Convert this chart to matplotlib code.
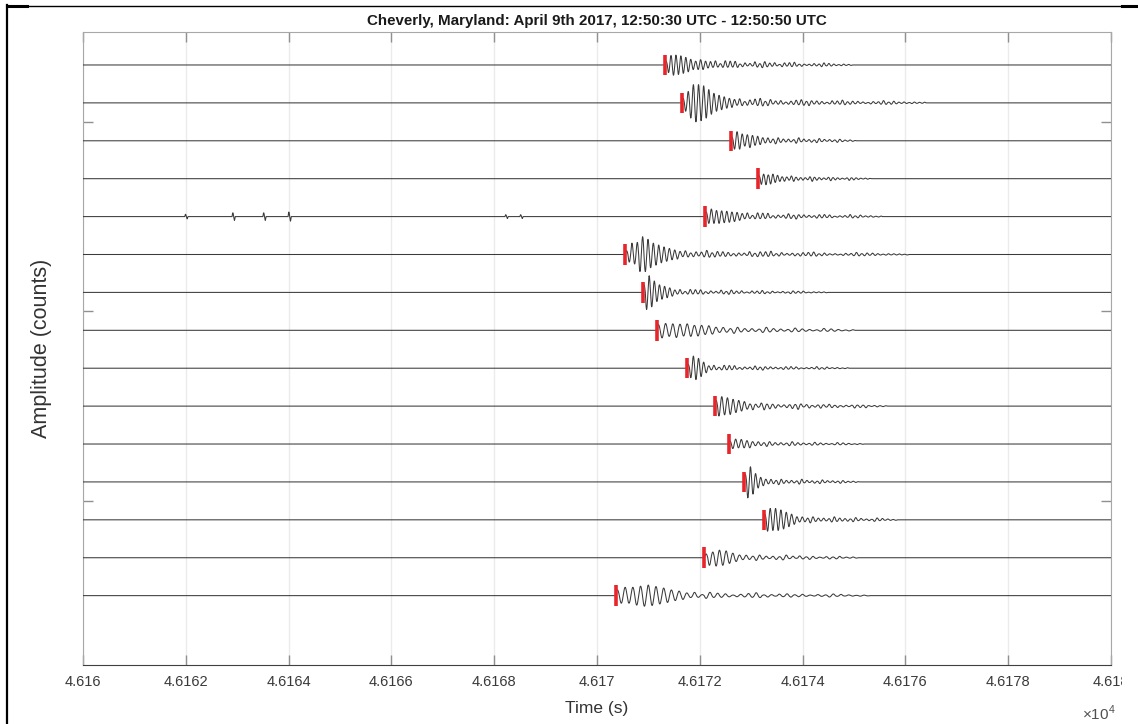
import numpy as np
import matplotlib.pyplot as plt
from matplotlib.lines import Line2D
from matplotlib.patches import Rectangle

plt.rcParams['font.family'] = ['Liberation Sans', 'DejaVu Sans']
plt.rcParams['mathtext.fontset'] = 'custom'
plt.rcParams['mathtext.rm'] = 'Liberation Sans'

title = "Cheverly, Maryland: April 9th 2017, 12:50:30 UTC - 12:50:50 UTC"
t_start = 46160.0
t_end = 46180.0
xticks = [46160, 46162, 46164, 46166, 46168, 46170, 46172, 46174, 46176, 46178, 46180]
xticklabels = ["4.616", "4.6162", "4.6164", "4.6166", "4.6168", "4.617",
               "4.6172", "4.6174", "4.6176", "4.6178", "4.618"]
yticks = [-11.5, -6.5, -1.5]

# pick times (s after t_start), one per station trace, top to bottom
picks = [11.32, 11.65, 12.60, 13.13, 12.10, 10.55, 10.89, 11.16,
         11.75, 12.29, 12.56, 12.86, 13.24, 12.09, 10.36]
# half period of the wiggles (s)
half_per = [0.048, 0.05, 0.05, 0.045, 0.05, 0.052, 0.05, 0.07,
            0.05, 0.055, 0.055, 0.05, 0.052, 0.065, 0.075]
# half-cycle peak amplitudes of the main arrival (trace spacing = 1)
main_peaks = [
    [0.10, 0.20, 0.25, 0.27, 0.26, 0.25, 0.24, 0.22, 0.20, 0.18, 0.15, 0.12, 0.10, 0.12, 0.14, 0.12, 0.10, 0.08],
    [0.12, 0.22, 0.30, 0.40, 0.48, 0.50, 0.48, 0.47, 0.45, 0.40, 0.35, 0.30, 0.25, 0.22, 0.20, 0.18, 0.16, 0.14, 0.12, 0.12],
    [0.10, 0.22, 0.24, 0.22, 0.18, 0.14, 0.16, 0.18, 0.14, 0.12, 0.12, 0.10],
    [0.08, 0.15, 0.12, 0.16, 0.10, 0.14, 0.12, 0.10, 0.09],
    [0.12, 0.18, 0.20, 0.18, 0.16, 0.18, 0.15, 0.16, 0.14, 0.15, 0.12, 0.13, 0.11, 0.10],
    [0.10, 0.20, 0.30, 0.25, 0.32, 0.45, 0.47, 0.45, 0.40, 0.35, 0.30, 0.28, 0.25, 0.22, 0.20, 0.18, 0.16, 0.14, 0.12, 0.12],
    [0.20, 0.45, 0.44, 0.38, 0.30, 0.24, 0.20, 0.18, 0.16, 0.14, 0.12, 0.10],
    [0.15, 0.20, 0.18, 0.16, 0.17, 0.19, 0.16, 0.15, 0.17, 0.16, 0.13, 0.15, 0.13, 0.11, 0.12, 0.10],
    [0.10, 0.25, 0.32, 0.30, 0.26, 0.22, 0.16, 0.12],
    [0.15, 0.26, 0.25, 0.23, 0.22, 0.22, 0.18, 0.17, 0.15, 0.13, 0.12],
    [0.08, 0.12, 0.13, 0.10, 0.12, 0.10, 0.09, 0.10],
    [0.20, 0.42, 0.40, 0.32, 0.22, 0.16, 0.12, 0.10],
    [0.15, 0.30, 0.30, 0.28, 0.30, 0.28, 0.26, 0.24, 0.20, 0.18, 0.15, 0.12],
    [0.10, 0.20, 0.15, 0.22, 0.20, 0.20, 0.18, 0.15, 0.12, 0.10],
    [0.15, 0.20, 0.22, 0.20, 0.22, 0.25, 0.25, 0.28, 0.28, 0.26, 0.24, 0.22, 0.20, 0.18, 0.15, 0.13, 0.12, 0.10],
]
# coda after the main arrival: a slowly fading envelope, stretched over the coda length (s)
coda_env = [0.09, 0.07, 0.10, 0.08, 0.05, 0.04, 0.07, 0.08, 0.05, 0.03,
            0.05, 0.06, 0.04, 0.02, 0.03, 0.05, 0.04, 0.02, 0.02, 0.015]
coda_wobble = [1.0, 0.7, 1.2, 0.8, 0.5, 0.9, 1.1, 0.6]
coda_len = [2.8, 3.8, 1.9, 1.8, 2.8, 4.5, 3.0, 2.8, 2.8, 2.8, 2.2, 1.9, 2.0, 2.4, 3.6]
coda_scale = [1.0, 1.0, 0.9, 0.8, 0.9, 0.9, 0.7, 0.9, 0.7, 0.9, 0.7, 0.8, 0.9, 0.8, 0.8]
# small glitches on the fifth trace (s after t_start, amplitude)
glitch_t = [1.98, 2.90, 3.50, 3.99, 8.21, 8.50]
glitch_a = [0.06, 0.10, 0.10, 0.12, 0.05, 0.05]

fs = 400.0
t = np.arange(0, t_end - t_start, 1.0 / fs)

fig = plt.figure(figsize=(11.38, 7.24), dpi=100)
ax = fig.add_axes([83 / 1138, 1 - 665 / 724, (1111 - 83) / 1138, (665 - 32) / 724])

for i in range(len(picks)):
    hp = half_per[i]
    n_coda = int(coda_len[i] / hp)
    coda = [coda_env[k * len(coda_env) // n_coda] * coda_wobble[k % len(coda_wobble)] * coda_scale[i]
            for k in range(n_coda)]
    peaks = np.array(list(main_peaks[i]) + coda)
    sig = np.zeros_like(t)
    dt = t - picks[i]
    k = np.floor(dt / hp).astype(int)
    ok = (dt >= 0) & (k < len(peaks))
    sig[ok] = peaks[k[ok]] * np.sin(np.pi * dt[ok] / hp)
    if i == 4:
        for gt, ga in zip(glitch_t, glitch_a):
            g = (t >= gt) & (t < gt + 0.06)
            sig[g] = ga * np.sin(np.pi * (t[g] - gt) / 0.03)
    ax.plot(t + t_start, sig - i, color='#3a3a3a', lw=0.75, zorder=3)
    ax.plot([t_start + picks[i]] * 2, [-i - 0.27, -i + 0.27], color='#e8252b', lw=2.6,
            solid_capstyle='butt', zorder=4)

ax.set_xlim(t_start, t_end)
ax.set_ylim(-15.83, 0.87)
ax.set_xticks(xticks)
ax.set_xticklabels(xticklabels)
ax.set_yticks(yticks)
ax.set_yticklabels([])
ax.grid(axis='x', color='#ebebeb', lw=1.0)
ax.set_axisbelow(True)
ax.tick_params(axis='both', direction='in', length=7.5, width=1.0, color='#909090',
               top=True, right=True, labelsize=10.5, labelcolor='#3a3a3a', pad=7)
for s in ['left', 'top', 'right']:
    ax.spines[s].set_color('#a8a8a8')
ax.spines['bottom'].set_color('#404040')

ax.set_title(title, fontsize=10.9, fontweight='bold', pad=5, color='#1a1a1a')
ax.set_xlabel("Time (s)", fontsize=12.5, color='#333333', labelpad=9)
ax.set_ylabel("Amplitude (counts)", fontsize=15.5, color='#333333', labelpad=15)
fig.text(1082 / 1138, 1 - 713 / 724, r'$\times10^{4}$', fontsize=11, color='#505050',
         va='center', ha='left')

# page frame around the pasted picture
fig.patches.append(Rectangle((1122 / 1138, 0), 16 / 1138, 1, transform=fig.transFigure,
                             facecolor='white', edgecolor='none', zorder=5))
fig.lines.append(Line2D([7 / 1138, 7 / 1138], [0, 1 - 5 / 724], transform=fig.transFigure,
                        color='black', lw=1.6, zorder=6))
fig.lines.append(Line2D([7 / 1138, 1122 / 1138], [1 - 5.5 / 724] * 2, transform=fig.transFigure,
                        color='black', lw=1.0, zorder=6))
fig.lines.append(Line2D([7 / 1138, 27 / 1138], [1 - 6 / 724] * 2, transform=fig.transFigure,
                        color='black', lw=2.2, zorder=6))
fig.lines.append(Line2D([1122 / 1138, 1138 / 1138], [1 - 6 / 724] * 2, transform=fig.transFigure,
                        color='black', lw=2.2, zorder=6))

fig.savefig("out.png", dpi=100)
